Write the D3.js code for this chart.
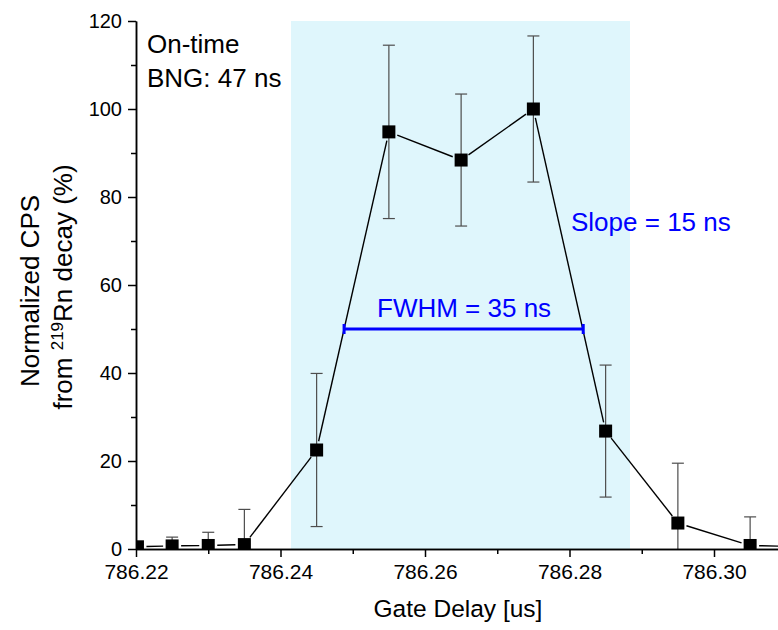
<!DOCTYPE html>
<html><head><meta charset="utf-8">
<script src="https://cdn.jsdelivr.net/npm/d3@7"></script>
<style>body{margin:0;background:#fff}svg{display:block;font-family:Arial,"Liberation Sans",sans-serif}</style>
</head><body><svg id="c" width="778" height="630"></svg>
<script>
const gateDelay = [786.2202, 786.225, 786.230, 786.235, 786.245, 786.255, 786.265, 786.275, 786.285, 786.295, 786.305, 786.315];
const cps       = [0.5, 0.7, 0.8, 1.0, 22.5, 94.8, 88.4, 100, 26.8, 5.9, 0.8, 0.4];
const cpsErr    = [0.5, 2.0, 3.0, 8.0, 17.4, 19.7, 15.0, 16.6, 15.0, 13.6, 6.5, 3.0];
const xTicks = [786.22, 786.24, 786.26, 786.28, 786.30];
const xMinorTicks = [786.23, 786.25, 786.27, 786.29];
const yTicks = [0, 20, 40, 60, 80, 100, 120];
const yMinorTicks = [10, 30, 50, 70, 90, 110];
const shadeRange = [786.24145, 786.28837];
const fwhmRange = [786.2488, 786.2819];
const fwhmLevel = 50;

const svg = d3.select("#c");
const m = {l:136, r:0, t:21, b:81};
const W = 778, H = 630;
const x = d3.scaleLinear().domain([786.22, 786.22 + (W - m.l) / 7225]).range([m.l, W - m.r]);
const y = d3.scaleLinear().domain([0, 120]).range([H - m.b, m.t]);

svg.append("defs").append("clipPath").attr("id","clip")
  .append("rect").attr("x", m.l).attr("y", 0).attr("width", W - m.l).attr("height", H - m.b);
const g = svg.append("g").attr("clip-path","url(#clip)");

g.append("rect").attr("x", x(shadeRange[0])).attr("y", y(120))
  .attr("width", x(shadeRange[1]) - x(shadeRange[0])).attr("height", y(0) - y(120))
  .attr("fill", "#dff6fc");

// connecting line with gaps near markers
const gap = 9;
for (let i = 0; i < gateDelay.length - 1; i++) {
  const x1 = x(gateDelay[i]), y1 = y(cps[i]), x2 = x(gateDelay[i+1]), y2 = y(cps[i+1]);
  const dx = x2 - x1, dy = y2 - y1, L = Math.hypot(dx, dy);
  if (L < 2 * gap) continue;
  const ux = dx / L, uy = dy / L;
  g.append("line").attr("x1", x1 + ux*gap).attr("y1", y1 + uy*gap)
    .attr("x2", x2 - ux*gap).attr("y2", y2 - uy*gap)
    .attr("stroke", "#000").attr("stroke-width", 1.4);
}

// error bars
const eb = g.append("g").attr("stroke", "#4d4d4d").attr("stroke-width", 1.2);
gateDelay.forEach((d, i) => {
  const cx = x(d), lo = y(Math.max(0, cps[i] - cpsErr[i])), hi = y(cps[i] + cpsErr[i]);
  eb.append("line").attr("x1", cx).attr("x2", cx).attr("y1", lo).attr("y2", hi);
  eb.append("line").attr("x1", cx - 6).attr("x2", cx + 6).attr("y1", hi).attr("y2", hi);
  if (cps[i] - cpsErr[i] > 0.5)
    eb.append("line").attr("x1", cx - 6).attr("x2", cx + 6).attr("y1", lo).attr("y2", lo);
});

// markers
g.selectAll("rect.pt").data(gateDelay).enter().append("rect").attr("class","pt")
  .attr("x", d => x(d) - 6.5).attr("y", (d, i) => y(cps[i]) - 6.5)
  .attr("width", 13).attr("height", 13).attr("fill", "#000");

// FWHM bar
const fy = y(fwhmLevel);
g.append("line").attr("x1", x(fwhmRange[0])).attr("x2", x(fwhmRange[1])).attr("y1", fy).attr("y2", fy)
  .attr("stroke", "#0000ff").attr("stroke-width", 3);
[fwhmRange[0], fwhmRange[1]].forEach(v => {
  g.append("line").attr("x1", x(v)).attr("x2", x(v)).attr("y1", fy - 5).attr("y2", fy + 5)
    .attr("stroke", "#0000ff").attr("stroke-width", 3);
});

svg.append("text").attr("x", 377).attr("y", 317)
  .attr("font-size", 26).attr("fill", "#0000ff").text("FWHM = 35 ns");
svg.append("text").attr("x", 571).attr("y", 231)
  .attr("font-size", 26).attr("fill", "#0000ff").text("Slope = 15 ns");

svg.append("text").attr("x", 147).attr("y", 53).attr("font-size", 26).text("On-time");
svg.append("text").attr("x", 147).attr("y", 87).attr("font-size", 26).text("BNG: 47 ns");

// axes
function styleAxis(sel) {
  sel.selectAll(".domain").attr("stroke-width", 1.5).attr("stroke", "#000");
  sel.selectAll(".tick line").attr("stroke-width", 1.5).attr("stroke", "#000");
  sel.selectAll(".tick text").attr("fill", "#000").attr("font-family", "Arial, 'Liberation Sans', sans-serif");
}
const xMinorAxis = svg.append("g").attr("transform", `translate(0,${H - m.b})`)
  .call(d3.axisBottom(x).tickValues(xMinorTicks).tickSize(5).tickSizeOuter(0).tickFormat(""));
styleAxis(xMinorAxis);
const xAxis = svg.append("g").attr("transform", `translate(0,${H - m.b})`)
  .call(d3.axisBottom(x).tickValues(xTicks).tickSize(8).tickSizeOuter(0).tickPadding(7).tickFormat(d3.format(".2f")));
styleAxis(xAxis);
xAxis.selectAll(".tick text").attr("font-size", 21);

const yMinorAxis = svg.append("g").attr("transform", `translate(${m.l},0)`)
  .call(d3.axisLeft(y).tickValues(yMinorTicks).tickSize(5).tickSizeOuter(0).tickFormat(""));
styleAxis(yMinorAxis);
const yAxis = svg.append("g").attr("transform", `translate(${m.l},0)`)
  .call(d3.axisLeft(y).tickValues(yTicks).tickSize(8).tickSizeOuter(0).tickPadding(6));
styleAxis(yAxis);
yAxis.selectAll(".tick text").attr("font-size", 20);

svg.append("text").attr("x", 458).attr("y", 617).attr("text-anchor", "middle")
  .attr("font-size", 24.5).text("Gate Delay [us]");

const yl = svg.append("text").attr("transform", "translate(39,291) rotate(-90)")
  .attr("text-anchor", "middle").attr("font-size", 26);
yl.append("tspan").attr("x", 0).attr("dy", 0).text("Normalized CPS");
const yl2 = svg.append("text").attr("transform", "translate(72,287) rotate(-90)")
  .attr("text-anchor", "middle").attr("font-size", 26);
yl2.append("tspan").text("from ");
yl2.append("tspan").attr("font-size", 17).attr("dy", -9).text("219");
yl2.append("tspan").attr("dy", 9).text("Rn decay (%)");
</script></body></html>
